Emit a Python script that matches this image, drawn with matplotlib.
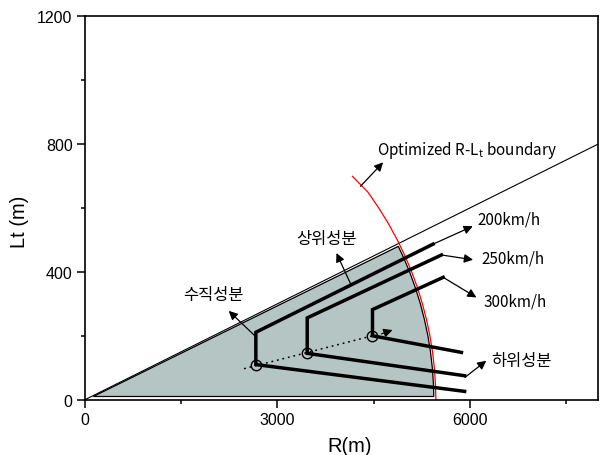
import matplotlib
matplotlib.use('Agg')
import matplotlib.pyplot as plt
from matplotlib.patches import Polygon

plt.rcParams['font.family'] = ['Liberation Sans', 'DejaVu Sans']
plt.rcParams['mathtext.fontset'] = 'custom'
plt.rcParams['mathtext.rm'] = 'Noto Sans CJK KR'

# optimized R-Lt boundary (red arc)
red_R = [4171, 4410, 4581, 4734, 4870, 4990, 5094, 5185, 5261, 5326, 5378, 5419, 5447, 5464, 5472]
red_Lt = [699, 650, 600, 550, 500, 450, 400, 350, 300, 250, 200, 150, 100, 50, 0]

# straight boundary Lt = R/10
line_R = [0, 8000]
line_Lt = [0, 800]

# shaded feasible region
wedge_R = [130, 4885, 4956, 5062, 5152, 5230, 5294, 5347, 5387, 5416, 5433, 5439]
wedge_Lt = [10, 480, 450, 400, 350, 300, 250, 200, 150, 100, 50, 10]

# design speed polylines: lower end -> circle -> vertical top -> upper end
speeds = ['200km/h', '250km/h', '300km/h']
lower_R = [5920, 5920, 5870]
lower_Lt = [26, 75, 148]
circle_R = [2664, 3465, 4483]
circle_Lt = [110, 145, 200]
vert_top_Lt = [211, 256, 282]
upper_R = [5428, 5558, 5585]
upper_Lt = [487, 453, 383]

# arrows from upper ends to speed labels
speed_tip_R = [6046, 6051, 6104]
speed_tip_Lt = [543, 438, 320]
speed_label_R = [6124, 6182, 6218]
speed_label_Lt = [565, 442, 310]

# dotted line through the circles
dot_R = [2480, 4483]
dot_Lt = [97, 200]

kr = ['Noto Sans CJK KR', 'DejaVu Sans']

fig = plt.figure(figsize=(6.05, 4.56), dpi=100)
ax = fig.add_axes([0.1405, 0.1213, 0.848, 0.8407])

ax.add_patch(Polygon(list(zip(wedge_R, wedge_Lt)), closed=True,
                     facecolor='#b5c5c3', edgecolor='black', lw=0.9, zorder=1))
ax.plot(line_R, line_Lt, color='black', lw=0.8, zorder=2)
ax.plot(red_R, red_Lt, color='red', lw=0.9, zorder=3)
ax.plot(dot_R, dot_Lt, color='black', lw=1.1, ls=(0, (1.2, 2.5)), zorder=3)

for i in range(len(speeds)):
    xs = [lower_R[i], circle_R[i], circle_R[i], upper_R[i]]
    ys = [lower_Lt[i], circle_Lt[i], vert_top_Lt[i], upper_Lt[i]]
    ax.plot(xs, ys, color='black', lw=2.5, solid_joinstyle='miter', zorder=4)
    ax.plot(circle_R[i], circle_Lt[i], 'o', ms=7.5, mfc='none', mec='black',
            mew=1.0, zorder=5)
    ax.annotate('', xy=(speed_tip_R[i], speed_tip_Lt[i]),
                xytext=(upper_R[i], upper_Lt[i]),
                arrowprops=dict(arrowstyle='-|>', color='black', lw=0.9,
                                mutation_scale=13, shrinkA=0, shrinkB=0), zorder=5)
    ax.text(speed_label_R[i], speed_label_Lt[i], speeds[i], family=kr,
            fontsize=11, ha='left', va='center')

arrow_kw = dict(arrowstyle='-|>', color='black', lw=0.9, mutation_scale=13,
                shrinkA=0, shrinkB=0)

# short arrow after the last circle
ax.annotate('', xy=(4795, 218), xytext=(4624, 206), arrowprops=arrow_kw)

# component labels
ax.annotate('', xy=(4649, 743), xytext=(4296, 668), arrowprops=arrow_kw)
ax.text(4546, 782, r'Optimized R-L$_{\mathregular{t}}$ boundary', family=kr,
        fontsize=11, ha='left', va='center')

ax.annotate('', xy=(3921, 459), xytext=(4143, 362), arrowprops=arrow_kw)
ax.text(3297, 503, '상위성분', family=kr, fontsize=11.8, ha='left', va='center')

ax.annotate('', xy=(2241, 278), xytext=(2675, 195), arrowprops=arrow_kw)
ax.text(1527, 328, '수직성분', family=kr, fontsize=11.8, ha='left', va='center')

ax.annotate('', xy=(6258, 122), xytext=(5926, 70), arrowprops=arrow_kw)
ax.text(6338, 122, '하위성분', family=kr, fontsize=11.8, ha='left', va='center')

ax.set_xlim(0, 8000)
ax.set_ylim(0, 1200)
ax.set_xticks([0, 3000, 6000])
ax.set_xticks([1500, 4500, 7500], minor=True)
ax.set_yticks([0, 400, 800, 1200])
ax.set_yticks([200, 600, 1000], minor=True)
ax.tick_params(which='major', direction='out', length=6, width=1.1,
               labelsize=11.5, pad=3)
ax.tick_params(which='minor', direction='out', length=3, width=1.1)
for s in ax.spines.values():
    s.set_linewidth(1.2)
    s.set_zorder(6)

ax.set_xlabel('R(m)', fontsize=14.5)
ax.set_ylabel('Lt (m)', fontsize=14.5)
ax.xaxis.set_label_coords(0.515, -0.095)
ax.yaxis.set_label_coords(-0.11, 0.467)

fig.savefig('out.png', dpi=100)
